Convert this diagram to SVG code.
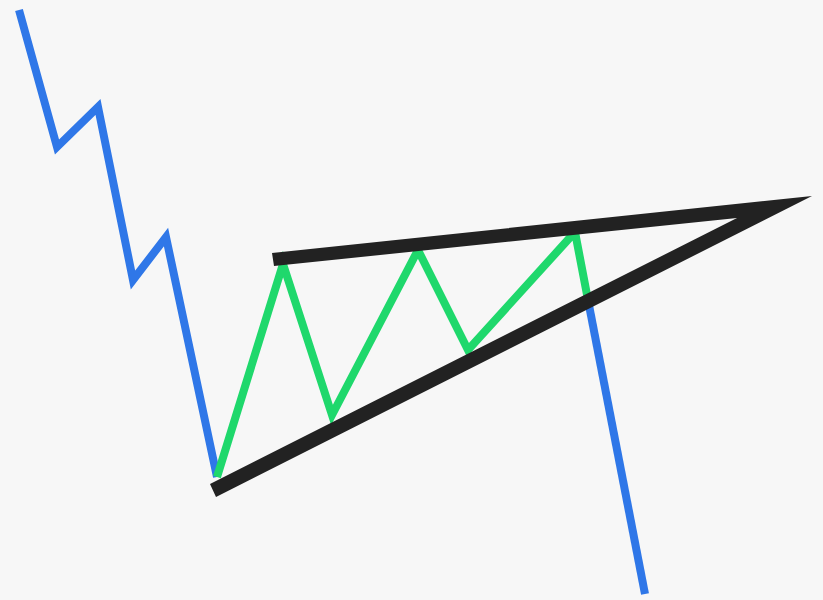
<svg xmlns="http://www.w3.org/2000/svg" width="823" height="600" viewBox="0 0 823 600">
<style>
.ln{fill:none;stroke-width:8;stroke-linejoin:miter;stroke-miterlimit:10;stroke-linecap:butt}
.blue{stroke:#2f77e8}
.green{stroke:#1fd86c}
</style>
<rect width="823" height="600" fill="#f7f7f7"/>
<g id="trend-down">
<polyline class="ln blue" points="19,10 57,147 98,107 133,280 166,237 217,477"/>
</g>
<g id="pattern">
<polyline class="ln green" points="217,477 283,264 332,415 418,250 468,350 575,232 588,300"/>
</g>
<g id="breakout">
<line class="ln blue" x1="588" y1="300" x2="645" y2="594"/>
</g>
<g id="triangle">
<polygon fill="#222222" points="272,253 812,196 216,497 210,484 737,218 274,266"/>
</g>
</svg>
